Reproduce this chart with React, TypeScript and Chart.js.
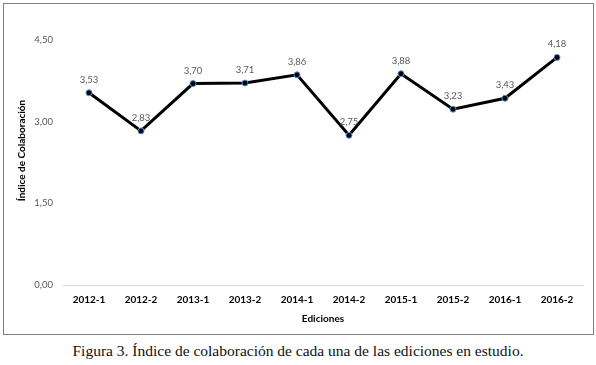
import React, { useEffect, useRef } from "react";
import { Chart, registerables } from "chart.js";

Chart.register(...registerables);

const categories = ["2012-1", "2012-2", "2013-1", "2013-2", "2014-1", "2014-2", "2015-1", "2015-2", "2016-1", "2016-2"];
const values = [3.53, 2.83, 3.7, 3.71, 3.86, 2.75, 3.88, 3.23, 3.43, 4.18];
const yTicks = [0, 1.5, 3, 4.5];
const yTitle = "Índice de Colaboración";
const xTitle = "Ediciones";
const caption = "Figura 3. Índice de colaboración de cada una de las ediciones en estudio.";

const fmt = (v: number) => v.toFixed(2).replace(".", ",");

export default function App() {
  const ref = useRef<HTMLCanvasElement | null>(null);

  useEffect(() => {
    document.body.style.margin = "0";
    const canvas = ref.current;
    if (!canvas) return;

    const labelsPlugin = {
      id: "valueLabels",
      afterDatasetsDraw(chart: any) {
        const ctx = chart.ctx;
        const meta = chart.getDatasetMeta(0);
        ctx.save();
        ctx.font = "9.5px Lato";
        ctx.fillStyle = "#595959";
        ctx.textAlign = "center";
        ctx.textBaseline = "middle";
        meta.data.forEach((pt: any, i: number) => {
          ctx.fillText(fmt(values[i]), pt.x, pt.y - 13);
        });
        ctx.restore();
      },
    };

    const yTitlePlugin = {
      id: "yTitle",
      afterDraw(chart: any) {
        const ctx = chart.ctx;
        const area = chart.chartArea;
        ctx.save();
        ctx.translate(18, (area.top + area.bottom) / 2 - 12);
        ctx.rotate(-Math.PI / 2);
        ctx.font = "bold 10px Lato";
        ctx.fillStyle = "#000";
        ctx.textAlign = "center";
        ctx.textBaseline = "middle";
        ctx.fillText(yTitle, 0, 0);
        ctx.restore();
      },
    };

    const chart = new Chart(canvas, {
      type: "line",
      data: {
        labels: categories,
        datasets: [
          {
            data: values,
            borderColor: "#000",
            borderWidth: 3,
            tension: 0,
            pointRadius: 3,
            pointBackgroundColor: "#000",
            pointBorderColor: "#4f8fd6",
            pointBorderWidth: 1,
          },
        ],
      },
      options: {
        responsive: false,
        animation: false,
        layout: { padding: { left: 0, right: 9, top: 36, bottom: 0 } },
        plugins: { legend: { display: false }, tooltip: { enabled: false } },
        scales: {
          x: {
            offset: true,
            grid: { display: false, drawTicks: false },
            border: { display: true, color: "#d9d9d9", width: 1 },
            ticks: { color: "#000", font: { family: "Lato", size: 10, weight: "bold" }, padding: 9, maxRotation: 0, autoSkip: false },
            title: { display: true, text: xTitle, color: "#000", font: { family: "Lato", size: 10, weight: "bold" }, padding: { top: 2, bottom: 0 } },
            afterFit: (s: any) => {
              s.height = 40;
            },
          },
          y: {
            min: 0,
            max: 4.5,
            afterBuildTicks: (s: any) => {
              s.ticks = yTicks.map((v) => ({ value: v }));
            },
            grid: { display: false, drawTicks: false },
            border: { display: false },
            ticks: { color: "#595959", font: { family: "Lato", size: 9.5 }, padding: 10, callback: (v: any) => fmt(Number(v)) },
            afterFit: (s: any) => {
              s.width = 59;
            },
          },
        },
      },
      plugins: [labelsPlugin, yTitlePlugin],
    } as any);

    return () => chart.destroy();
  }, []);

  return (
    <div style={{ position: "absolute", left: 0, top: 0, width: 596, height: 365, background: "#fff" }}>
      <div
        style={{
          position: "absolute",
          left: 3,
          top: 3,
          width: 591,
          height: 332,
          border: "1px solid #7f7f7f",
          boxSizing: "border-box",
        }}
      >
        <canvas ref={ref} width={588} height={321} style={{ display: "block" }} />
      </div>
      <div
        style={{
          position: "absolute",
          left: 0,
          top: 342,
          width: 596,
          height: 18,
          lineHeight: "18px",
          textAlign: "center",
          fontFamily: "'Liberation Serif', serif",
          fontSize: 15.5,
          color: "#111",
          whiteSpace: "nowrap",
        }}
      >
        {caption}
      </div>
    </div>
  );
}
